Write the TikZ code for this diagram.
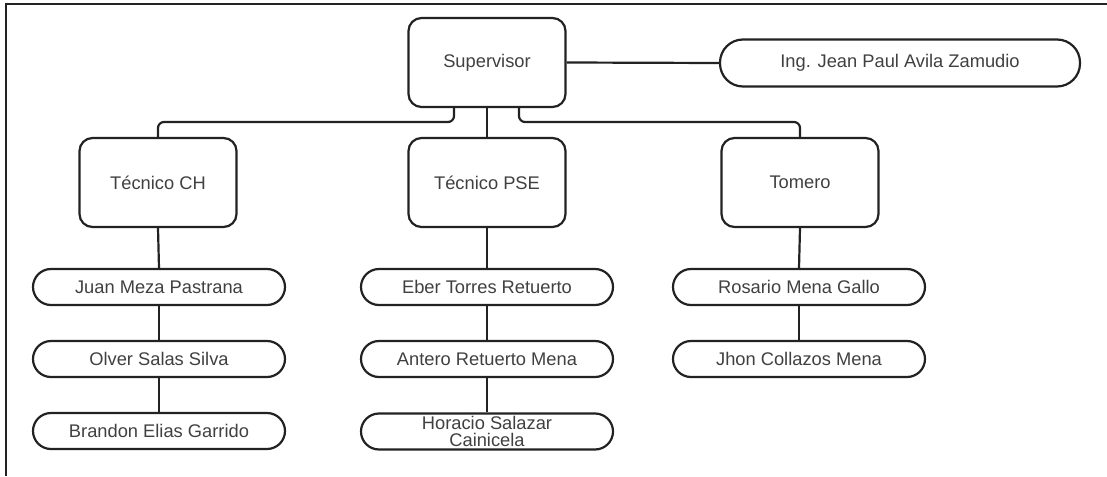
\documentclass[tikz,border=0pt]{standalone}
\usepackage{fontspec}
\setmainfont{Liberation Sans}
\definecolor{ln}{HTML}{222222}
\definecolor{txt}{HTML}{404040}
\begin{document}
\begin{tikzpicture}[x=1pt,y=-1pt,
  every node/.style={font=\fontsize{18.3}{16.5}\selectfont, text=txt},
  unit/.style={draw=ln, line width=2.2pt, rounded corners=13pt,
    minimum width=157pt, minimum height=89pt, inner sep=0pt},
  person/.style={draw=ln, line width=2.2pt, rounded corners=18pt,
    minimum width=252pt, minimum height=36pt, inner sep=0pt, align=center},
  link/.style={draw=ln, line width=2.2pt, rounded corners=6pt}]
\useasboundingbox (0,0) rectangle (1107,476);
% page frame
\draw[ln, line width=2pt] (6,476) -- (6,4.5) -- (1107,4.5);

% top level
\node[unit] (sup) at (487,62.5) {Supervisor};
\node[person, minimum width=360pt, minimum height=47pt, rounded corners=23pt] (ing) at (900,63) {Ing. Jean Paul Avila Zamudio};

% second level
\node[unit] (tch)  at (158,182.5) {Técnico CH};
\node[unit] (tpse) at (487,182.5) {Técnico PSE};
\node[unit] (tom)  at (800,182.5) {Tomero};

% staff
\node[person] (p1) at (159,287) {Juan Meza Pastrana};
\node[person] (p2) at (159,359) {Olver Salas Silva};
\node[person] (p3) at (159,431) {Brandon Elias Garrido};
\node[person] (e1) at (487,287) {Eber Torres Retuerto};
\node[person] (e2) at (487,359) {Antero Retuerto Mena};
\node[person] (e3) at (487,431.5) {Horacio Salazar\\Cainicela};
\node[person] (r1) at (799,287) {Rosario Mena Gallo};
\node[person] (r2) at (799,359) {Jhon Collazos Mena};

% connectors
\coordinate (bar) at (0,122);
\draw[link] (sup.east) -- (ing.west);
\draw[link] ([xshift=-33pt]sup.south) -- ([xshift=-33pt]sup.south |- bar) -| (tch.north);
\draw[link] (sup.south) -- (tpse.north);
\draw[link] ([xshift=32pt]sup.south) -- ([xshift=32pt]sup.south |- bar) -| (tom.north);

\draw[link] (tch.south) -- (p1.north);
\draw[link] (p1.south) -- (p2.north);
\draw[link] (p2.south) -- (p3.north);
\draw[link] (tpse.south) -- (e1.north);
\draw[link] (e1.south) -- (e2.north);
\draw[link] (e2.south) -- (e3.north);
\draw[link] (tom.south) -- (r1.north);
\draw[link] (r1.south) -- (r2.north);
\end{tikzpicture}
\end{document}
